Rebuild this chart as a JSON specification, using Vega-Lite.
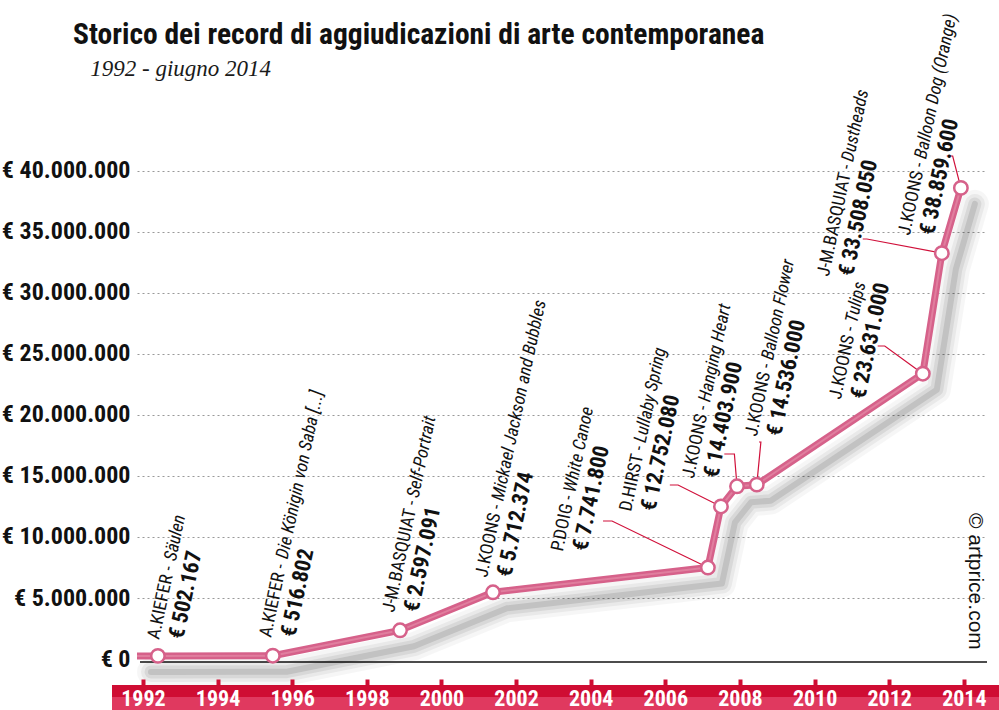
{
  "$schema": "https://vega.github.io/schema/vega-lite/v6.json",
  "width": 850,
  "height": 570,
  "autosize": {"type": "none"},
  "padding": {"left": 137, "top": 140, "right": 12, "bottom": 0},
  "background": "white",
  "config": {
    "view": {"stroke": null},
    "locale": {"number": {"decimal": ",", "thousands": ".", "grouping": [3], "currency": ["€", ""]}}
  },
  "title": {
    "text": "Storico dei record di aggiudicazioni di arte contemporanea",
    "subtitle": "\u200b\u00a0\u00a0\u00a01992 - giugno 2014",
    "anchor": "start",
    "frame": "group",
    "dx": -64,
    "offset": -70,
    "font": "Roboto Condensed, sans-serif",
    "fontSize": 29.5,
    "fontWeight": "bold",
    "color": "#111111",
    "subtitleFont": "Liberation Serif, serif",
    "subtitleFontStyle": "italic",
    "subtitleFontSize": 23,
    "subtitleColor": "#1a1a1a",
    "subtitlePadding": 8
  },
  "datasets": {
    "line": [
      {"year": 1991.84, "value": 502167},
      {"year": 1992.40, "value": 502167},
      {"year": 1995.48, "value": 516802},
      {"year": 1998.89, "value": 2597091},
      {"year": 2001.38, "value": 5712374},
      {"year": 2007.14, "value": 7741800},
      {"year": 2007.49, "value": 12752080},
      {"year": 2007.92, "value": 14403900},
      {"year": 2008.45, "value": 14536000},
      {"year": 2012.90, "value": 23631000},
      {"year": 2013.41, "value": 33508050},
      {"year": 2013.92, "value": 38859600}
    ],
    "ann": [
      {"name": "A.KIEFER -", "title": "Säulen", "price": "€ 502.167", "year": 1992.43, "value": 1560000},
      {"name": "A.KIEFER -", "title": "Die Königin von Saba [...]", "price": "€ 516.802", "year": 1995.43, "value": 1720000},
      {"name": "J-M.BASQUIAT -", "title": "Self-Portrait", "price": "€ 2.597.091", "year": 1998.73, "value": 3770000},
      {"name": "J.KOONS -", "title": "Mickael Jackson and Bubbles", "price": "€ 5.712.374", "year": 2001.22, "value": 6640000},
      {"name": "P.DOIG -", "title": "White Canoe", "price": "€ 7.741.800", "year": 2003.25, "value": 8770000},
      {"name": "D.HIRST -", "title": "Lullaby Spring", "price": "€ 12.752.080", "year": 2005.08, "value": 12050000},
      {"name": "J.KOONS -", "title": "Hanging Heart", "price": "€ 14.403.900", "year": 2006.76, "value": 14750000},
      {"name": "J.KOONS -", "title": "Balloon Flower", "price": "€ 14.536.000", "year": 2008.45, "value": 18200000},
      {"name": "J.KOONS -", "title": "Tulips", "price": "€ 23.631.000", "year": 2010.70, "value": 21230000},
      {"name": "J-M.BASQUIAT -", "title": "Dustheads", "price": "€ 33.508.050", "year": 2010.38, "value": 31310000},
      {"name": "J.KOONS -", "title": "Balloon Dog (Orange)", "price": "€ 38.859.600", "year": 2012.55, "value": 34670000}
    ],
    "leaders": [
      {"id": "WC", "ord": 0, "year": 2004.33, "value": 11557000},
      {"id": "WC", "ord": 1, "year": 2004.57, "value": 11557000},
      {"id": "WC", "ord": 2, "year": 2007.14, "value": 7741800},
      {"id": "LS", "ord": 0, "year": 2006.12, "value": 14508000},
      {"id": "LS", "ord": 1, "year": 2006.34, "value": 14508000},
      {"id": "LS", "ord": 2, "year": 2007.49, "value": 12752080},
      {"id": "HH", "ord": 0, "year": 2007.58, "value": 17049000},
      {"id": "HH", "ord": 1, "year": 2007.85, "value": 17049000},
      {"id": "HH", "ord": 2, "year": 2007.92, "value": 14403900},
      {"id": "BF", "ord": 0, "year": 2008.51, "value": 18033000},
      {"id": "BF", "ord": 1, "year": 2008.56, "value": 18033000},
      {"id": "BF", "ord": 2, "year": 2008.45, "value": 14536000},
      {"id": "TU", "ord": 0, "year": 2011.69, "value": 25902000},
      {"id": "TU", "ord": 1, "year": 2011.88, "value": 25902000},
      {"id": "TU", "ord": 2, "year": 2012.90, "value": 23631000},
      {"id": "DU", "ord": 0, "year": 2011.29, "value": 34672000},
      {"id": "DU", "ord": 1, "year": 2011.40, "value": 34672000},
      {"id": "DU", "ord": 2, "year": 2013.41, "value": 33508050},
      {"id": "BD", "ord": 0, "year": 2013.54, "value": 41475000},
      {"id": "BD", "ord": 1, "year": 2013.70, "value": 41475000},
      {"id": "BD", "ord": 2, "year": 2013.92, "value": 38859600}
    ]
  },
  "layer": [
    {
      "data": {"values": [{"k": 1}]},
      "mark": {"type": "rect", "color": "#cf0d33"},
      "encoding": {
        "x": {"datum": 1991.17, "type": "quantitative"},
        "x2": {"datum": 2014.95},
        "y": {"datum": -2130000, "type": "quantitative"},
        "y2": {"datum": -3110000}
      }
    },
    {
      "data": {"values": [{"k": 1}]},
      "mark": {"type": "rect", "color": "#e0395f"},
      "encoding": {
        "x": {"datum": 1991.17, "type": "quantitative"},
        "x2": {"datum": 2014.95},
        "y": {"datum": -3110000, "type": "quantitative"},
        "y2": {"datum": -4180000}
      }
    },
    {
      "data": {"values": [{"k": 1}]},
      "mark": {"type": "rule", "color": "#111111", "strokeWidth": 1.5, "yOffset": 3},
      "encoding": {
        "x": {"datum": 1991.92, "type": "quantitative"},
        "x2": {"datum": 2014.62},
        "y": {"datum": 0, "type": "quantitative"}
      }
    },
    {
      "data": {"name": "line"},
      "mark": {"type": "line", "color": "#000000", "opacity": 0.035, "strokeWidth": 28, "strokeJoin": "round", "strokeCap": "round", "xOffset": 14, "yOffset": 19},
      "encoding": {
        "x": {"field": "year", "type": "quantitative"},
        "y": {"field": "value", "type": "quantitative"}
      }
    },
    {
      "data": {"name": "line"},
      "mark": {"type": "line", "color": "#000000", "opacity": 0.05, "strokeWidth": 20, "strokeJoin": "round", "strokeCap": "round", "xOffset": 14, "yOffset": 19},
      "encoding": {
        "x": {"field": "year", "type": "quantitative"},
        "y": {"field": "value", "type": "quantitative"}
      }
    },
    {
      "data": {"name": "line"},
      "mark": {"type": "line", "color": "#000000", "opacity": 0.07, "strokeWidth": 13, "strokeJoin": "round", "strokeCap": "round", "xOffset": 14, "yOffset": 19},
      "encoding": {
        "x": {"field": "year", "type": "quantitative"},
        "y": {"field": "value", "type": "quantitative"}
      }
    },
    {
      "data": {"name": "line"},
      "mark": {"type": "line", "color": "#000000", "opacity": 0.1, "strokeWidth": 6, "strokeJoin": "round", "strokeCap": "round", "xOffset": 14, "yOffset": 19},
      "encoding": {
        "x": {"field": "year", "type": "quantitative"},
        "y": {"field": "value", "type": "quantitative"}
      }
    },
    {
      "data": {"name": "line"},
      "mark": {"type": "line", "color": "#d6618a", "strokeWidth": 7, "strokeJoin": "round", "yOffset": 3},
      "encoding": {
        "x": {
          "field": "year", "type": "quantitative",
          "scale": {"domain": [1991.84, 2014.62], "nice": false, "zero": false},
          "axis": {
            "values": [1992, 1994, 1996, 1998, 2000, 2002, 2004, 2006, 2008, 2010, 2012, 2014],
            "format": "d", "title": null, "domain": false, "grid": false,
            "offset": -25, "zindex": 1,
            "tickColor": "#cf0d33", "tickSize": -6, "tickWidth": 4,
            "labelColor": "white", "labelFont": "Roboto Condensed, sans-serif",
            "labelFontSize": 22, "labelFontWeight": "bold", "labelBaseline": "top", "labelPadding": 9,
            "labelFlush": false, "labelOverlap": false
          }
        },
        "y": {
          "field": "value", "type": "quantitative",
          "scale": {"domain": [-4180000, 42540000], "nice": false, "zero": false},
          "axis": {
            "values": [0, 5000000, 10000000, 15000000, 20000000, 25000000, 30000000, 35000000, 40000000],
            "format": ",.0f", "labelExpr": "'€ ' + datum.label", "title": null,
            "domain": false, "ticks": false, "labelPadding": 7,
            "labelFont": "Roboto Condensed, sans-serif",
            "labelFontSize": 24, "labelFontWeight": "bold", "labelColor": "#111111",
            "grid": true, "gridColor": "#999999", "gridDash": [2, 3], "gridWidth": 1,
            "gridOpacity": {"condition": {"test": "datum.value === 0", "value": 0}, "value": 1}
          }
        }
      }
    },
    {
      "data": {"name": "line"},
      "mark": {"type": "line", "color": "#e48aa6", "strokeWidth": 2, "strokeJoin": "round", "opacity": 0.7, "yOffset": 3},
      "encoding": {
        "x": {"field": "year", "type": "quantitative"},
        "y": {"field": "value", "type": "quantitative"}
      }
    },
    {
      "data": {"name": "leaders"},
      "mark": {"type": "line", "color": "#d0103a", "strokeWidth": 1.2, "yOffset": 3},
      "encoding": {
        "x": {"field": "year", "type": "quantitative"},
        "y": {"field": "value", "type": "quantitative"},
        "detail": {"field": "id"},
        "order": {"field": "ord", "type": "quantitative"}
      }
    },
    {
      "data": {"name": "line"},
      "transform": [{"filter": "datum.year > 1992"}],
      "mark": {"type": "point", "shape": "circle", "filled": true, "fill": "white", "stroke": "#d6618a", "strokeWidth": 2.5, "size": 180, "opacity": 1, "yOffset": 3},
      "encoding": {
        "x": {"field": "year", "type": "quantitative"},
        "y": {"field": "value", "type": "quantitative"}
      }
    },
    {
      "data": {"name": "ann"},
      "mark": {"type": "text", "angle": 282, "align": "left", "baseline": "alphabetic", "font": "Roboto Condensed, sans-serif", "fontSize": 18, "color": "#111111"},
      "encoding": {
        "x": {"field": "year", "type": "quantitative"},
        "y": {"field": "value", "type": "quantitative"},
        "text": {"field": "name"}
      }
    },
    {
      "data": {"name": "ann"},
      "transform": [{"filter": "datum.name === 'A.KIEFER -'"}],
      "mark": {"type": "text", "angle": 282, "align": "left", "baseline": "alphabetic", "dx": 80, "font": "Roboto Condensed, sans-serif", "fontSize": 18, "fontStyle": "italic", "color": "#111111"},
      "encoding": {
        "x": {"field": "year", "type": "quantitative"},
        "y": {"field": "value", "type": "quantitative"},
        "text": {"field": "title"}
      }
    },
    {
      "data": {"name": "ann"},
      "transform": [{"filter": "datum.name === 'J-M.BASQUIAT -'"}],
      "mark": {"type": "text", "angle": 282, "align": "left", "baseline": "alphabetic", "dx": 117, "font": "Roboto Condensed, sans-serif", "fontSize": 18, "fontStyle": "italic", "color": "#111111"},
      "encoding": {
        "x": {"field": "year", "type": "quantitative"},
        "y": {"field": "value", "type": "quantitative"},
        "text": {"field": "title"}
      }
    },
    {
      "data": {"name": "ann"},
      "transform": [{"filter": "datum.name === 'J.KOONS -'"}],
      "mark": {"type": "text", "angle": 282, "align": "left", "baseline": "alphabetic", "dx": 78, "font": "Roboto Condensed, sans-serif", "fontSize": 18, "fontStyle": "italic", "color": "#111111"},
      "encoding": {
        "x": {"field": "year", "type": "quantitative"},
        "y": {"field": "value", "type": "quantitative"},
        "text": {"field": "title"}
      }
    },
    {
      "data": {"name": "ann"},
      "transform": [{"filter": "datum.name === 'P.DOIG -'"}],
      "mark": {"type": "text", "angle": 282, "align": "left", "baseline": "alphabetic", "dx": 60, "font": "Roboto Condensed, sans-serif", "fontSize": 18, "fontStyle": "italic", "color": "#111111"},
      "encoding": {
        "x": {"field": "year", "type": "quantitative"},
        "y": {"field": "value", "type": "quantitative"},
        "text": {"field": "title"}
      }
    },
    {
      "data": {"name": "ann"},
      "transform": [{"filter": "datum.name === 'D.HIRST -'"}],
      "mark": {"type": "text", "angle": 282, "align": "left", "baseline": "alphabetic", "dx": 70, "font": "Roboto Condensed, sans-serif", "fontSize": 18, "fontStyle": "italic", "color": "#111111"},
      "encoding": {
        "x": {"field": "year", "type": "quantitative"},
        "y": {"field": "value", "type": "quantitative"},
        "text": {"field": "title"}
      }
    },
    {
      "data": {"name": "ann"},
      "mark": {"type": "text", "angle": 282, "align": "left", "baseline": "alphabetic", "dx": 5, "dy": 23.5, "font": "Roboto Condensed, sans-serif", "fontSize": 22, "fontWeight": "bold", "color": "#111111"},
      "encoding": {
        "x": {"field": "year", "type": "quantitative"},
        "y": {"field": "value", "type": "quantitative"},
        "text": {"field": "price"}
      }
    },
    {
      "data": {"values": [{"label": "© artprice.com"}]},
      "mark": {"type": "text", "angle": 90, "align": "left", "baseline": "middle", "font": "Liberation Sans, Arial, sans-serif", "fontSize": 21, "color": "#111111"},
      "encoding": {
        "x": {"datum": 2014.29, "type": "quantitative"},
        "y": {"datum": 11970000, "type": "quantitative"},
        "text": {"field": "label"}
      }
    }
  ]
}
